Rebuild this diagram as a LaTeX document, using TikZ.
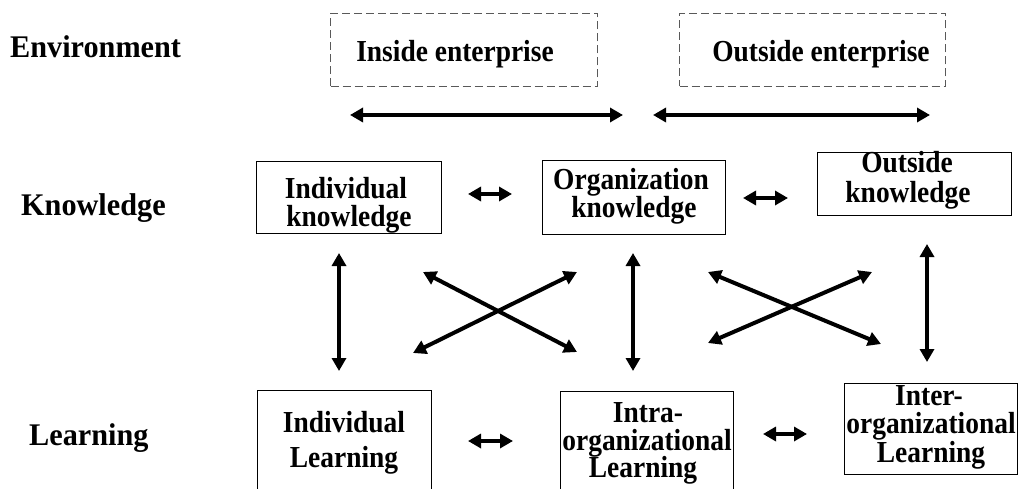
\documentclass[tikz,border=0pt]{standalone}
\usepackage{fontspec}
\setmainfont{Liberation Serif}
% slightly narrowed face for the text inside the boxes
\newfontfamily\boxfont[FakeStretch=0.9]{Liberation Serif}
\newfontfamily\rowfont[FakeStretch=0.96]{Liberation Serif}
\usetikzlibrary{arrows.meta}

\begin{document}
\begin{tikzpicture}[x=1pt, y=-1pt,
  solidbox/.style={draw=black, line width=1.2pt, inner sep=0pt, anchor=north west},
  dashbox/.style={draw=black!65, line width=1pt, dash pattern=on 8pt off 4pt, inner sep=0pt, anchor=north west},
  btxt/.style={anchor=base, inner sep=0pt, font=\boxfont\bfseries\fontsize{30.5}{30.5}\selectfont},
  rowlabel/.style={anchor=base west, inner sep=0pt, font=\rowfont\bfseries\fontsize{31.5}{31.5}\selectfont},
  link/.style={line width=4pt, {Triangle[length=13pt,width=14pt]}-{Triangle[length=13pt,width=14pt]}}
]
\useasboundingbox (0,0) rectangle (1020,489);
\clip (0,0) rectangle (1020,489);

% row labels
\node[rowlabel] (lenv) at (10,58) {Environment};
\node[rowlabel] (lknow) at (21,215) {Knowledge};
\node[rowlabel] (llearn) at (29,445) {Learning};

% environment boxes
\node[dashbox, minimum width=267pt, minimum height=73pt] (inside) at (330,13) {};
\node[dashbox, minimum width=266pt, minimum height=73pt] (outside) at (679,13) {};
\node[btxt] (inside-t) at (455,62) {Inside enterprise};
\node[btxt] (outside-t) at (821,62) {Outside enterprise};

% knowledge boxes
\node[solidbox, minimum width=185pt, minimum height=72pt] (ik) at (256,161) {};
\node[solidbox, minimum width=183pt, minimum height=74pt] (ok) at (542,160) {};
\node[solidbox, minimum width=194pt, minimum height=63pt] (xk) at (817,152) {};
\node[btxt] (ik-a) at (346,199) {Individual};
\node[btxt] (ik-b) at (349,226) {knowledge};
\node[btxt] (ok-a) at (631,190) {Organization};
\node[btxt] (ok-b) at (634,218) {knowledge};
\node[btxt] (xk-a) at (907,173) {Outside};
\node[btxt] (xk-b) at (908,203) {knowledge};

% learning boxes
\node[solidbox, minimum width=174pt, minimum height=120pt] (il) at (257,390) {};
\node[solidbox, minimum width=173pt, minimum height=120pt] (al) at (560,391) {};
\node[solidbox, minimum width=173pt, minimum height=91pt] (el) at (844,383) {};
\node[btxt] (il-a) at (344,432) {Individual};
\node[btxt] (il-b) at (344,467) {Learning};
\node[btxt] (al-a) at (648,422) {Intra-};
\node[btxt] (al-b) at (647,450) {organizational};
\node[btxt] (al-c) at (643,477) {Learning};
\node[btxt] (el-a) at (929,405) {Inter-};
\node[btxt] (el-b) at (931,433) {organizational};
\node[btxt] (el-c) at (931,462) {Learning};

% arrow end points
\coordinate (e1a) at (350,115);  \coordinate (e1b) at (623,115);
\coordinate (e2a) at (653,115);  \coordinate (e2b) at (930,115);
\coordinate (k1a) at (468,194);  \coordinate (k1b) at (512,194);
\coordinate (k2a) at (743,198);  \coordinate (k2b) at (788,198);
\coordinate (l1a) at (468,441);  \coordinate (l1b) at (513,441);
\coordinate (l2a) at (763,434);  \coordinate (l2b) at (807,434);
\coordinate (v1a) at (339,253);  \coordinate (v1b) at (339,371);
\coordinate (v2a) at (633,253);  \coordinate (v2b) at (633,371);
\coordinate (v3a) at (927,244);  \coordinate (v3b) at (927,362);
\coordinate (c1a) at (423,272);  \coordinate (c1b) at (577,352);
\coordinate (c2a) at (413,353);  \coordinate (c2b) at (577,272);
\coordinate (c3a) at (708,272);  \coordinate (c3b) at (881,344);
\coordinate (c4a) at (708,343);  \coordinate (c4b) at (872,272);

% environment links
\draw[link] (e1a) -- (e1b);
\draw[link] (e2a) -- (e2b);
% horizontal links
\draw[link] (k1a) -- (k1b);
\draw[link] (k2a) -- (k2b);
\draw[link] (l1a) -- (l1b);
\draw[link] (l2a) -- (l2b);
% vertical links
\draw[link] (v1a) -- (v1b);
\draw[link] (v2a) -- (v2b);
\draw[link] (v3a) -- (v3b);
% crossing links
\draw[link] (c1a) -- (c1b);
\draw[link] (c2a) -- (c2b);
\draw[link] (c3a) -- (c3b);
\draw[link] (c4a) -- (c4b);
\end{tikzpicture}
\end{document}
